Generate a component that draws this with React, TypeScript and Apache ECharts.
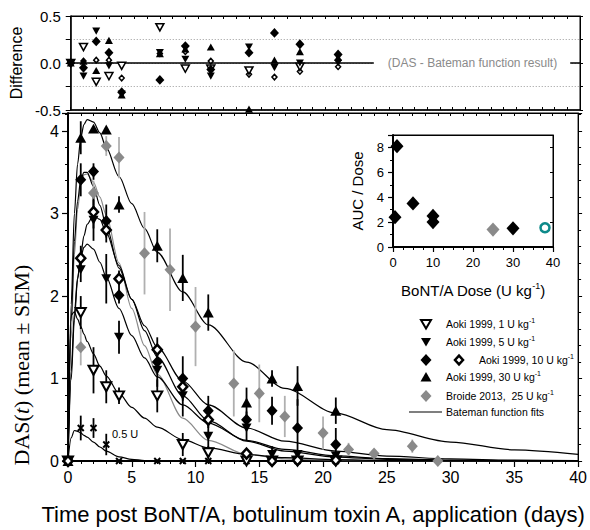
import React, { useEffect, useRef } from "react";
import * as echarts from "echarts";

// ---------------- data ----------------
const aokiDays = [0, 1, 2, 3, 4, 7, 9, 11, 14, 16, 18, 21];
const aoki1U = [0, 1.8, 1.1, 0.9, 0.79, 0.79, 0.2, 0.1, 0.0, 0.0, 0.0, 0.0];
const aoki1UErr = [0, 0.2, 0.28, 0.2, 0.1, 0.2, 0.14, 0.08, 0, 0, 0, 0];
const aoki5U = [0, 2.32, 2.92, 2.21, 1.5, 1.1, 0.79, 0.3, 0.4, 0.08, 0.08, 0.06];
const aoki5UErr = [0, 0.15, 0.25, 0.3, 0.2, 0.2, 0.25, 0.25, 0.15, 0.1, 0.05, 0.05];
const aoki10UFilled = [0, 3.41, 3.51, 2.91, 2.01, 1.2, 1.0, 0.61, 0.5, 0.61, 0.4, 0.2];
const aoki10UFilledErr = [0, 0.2, 0.1, 0.2, 0.1, 0.1, 0.27, 0.18, 0.1, 0.17, 0.35, 0.2];
const aoki10UOpen = [0, 2.46, 3.02, 2.8, 2.21, 1.35, 0.9, 0.5, 0.09, 0.0, 0.01, 0.01];
const aoki10UOpenErr = [0, 0.15, 0.2, 0.15, 0.1, 0.15, 0.1, 0.1, 0.05, 0, 0, 0];
const aoki30U = [0, 3.92, 4.03, 4.02, 3.11, 2.61, 2.22, 1.8, 0.71, 1.0, 0.91, 0.61];
const aoki30UErr = [0, 0.2, 0, 0, 0.1, 0.2, 0.28, 0.22, 0.18, 0.1, 0.24, 0.16];
const aoki05U = [0, 0.4, 0.4, 0.2, 0, 0, 0, 0, 0, 0, 0, 0];
const aoki05UErr = [0, 0.15, 0.12, 0.13, 0, 0, 0, 0, 0, 0, 0, 0];

const broideDays = [1, 2, 3, 4, 6, 8, 10, 13, 15, 17, 20, 22, 24, 27, 29];
const broide25U = [1.38, 3.25, 3.82, 3.68, 2.52, 2.32, 1.63, 0.94, 0.82, 0.54, 0.34, 0.14, 0.09, 0.18, 0.0];
const broide25UErr = [0.22, 0.15, 0.12, 0.25, 0.5, 0.5, 0.48, 0.4, 0.35, 0.25, 0.2, 0.08, 0.05, 0.08, 0.02];

// Bateman fit curves
const fitTimes = [0, 0.25, 0.5, 0.75, 1, 1.25, 1.5, 2, 2.5, 3, 4, 5, 6, 7, 9, 11, 14, 17, 21, 25, 30, 35, 40];
const fit30U = [0, 1.9, 3.0, 3.6, 3.92, 4.08, 4.14, 4.11, 3.98, 3.8, 3.45, 3.12, 2.82, 2.53, 2.05, 1.65, 1.2, 0.88, 0.58, 0.38, 0.23, 0.135, 0.08];
const fit10UFilled = [0, 1.7, 2.66, 3.15, 3.41, 3.5, 3.5, 3.33, 3.1, 2.85, 2.34, 1.96, 1.64, 1.38, 0.97, 0.68, 0.4, 0.24, 0.12, 0.06, 0.025, 0.01, 0.004];
const fit10UOpen = [0, 0.99, 1.71, 2.2, 2.5, 2.73, 2.87, 2.98, 2.93, 2.77, 2.37, 1.96, 1.58, 1.26, 0.79, 0.49, 0.24, 0.12, 0.048, 0.02, 0.006, 0.002, 0];
const fit5U = [0, 1.09, 1.79, 2.22, 2.47, 2.59, 2.63, 2.57, 2.41, 2.23, 1.85, 1.52, 1.25, 1.02, 0.68, 0.46, 0.25, 0.14, 0.062, 0.028, 0.01, 0.004, 0.001];
const fit1U = [0, 1.77, 1.81, 1.72, 1.63, 1.54, 1.45, 1.3, 1.15, 1.03, 0.82, 0.65, 0.52, 0.41, 0.26, 0.16, 0.08, 0.04, 0.016, 0.007, 0.002, 0.001, 0];
const fit05U = [0, 0.28, 0.37, 0.36, 0.34, 0.31, 0.29, 0.23, 0.17, 0.12, 0.05, 0.02, 0.006, 0.002, 0, 0, 0, 0, 0, 0, 0, 0, 0];
const fitBroide = [0, 1.5, 2.5, 3.05, 3.35, 3.47, 3.48, 3.38, 3.2, 2.98, 2.4, 1.85, 1.4, 1.05, 0.52, 0.25, 0.08, 0.025, 0.005, 0, 0, 0, 0];

// Differences (DAS - Bateman function result)
const diff1U = [0, 0.17, -0.2, -0.14, -0.03, 0.38, -0.06, -0.06, -0.08, null, -0.04, null];
const diff5U = [0, -0.14, 0.34, -0.03, -0.33, 0.11, 0.04, -0.14, 0.17, -0.05, 0.0, 0.0];
const diff10UFilled = [0, -0.05, 0.23, 0.11, -0.31, -0.18, 0.18, -0.07, 0.11, 0.32, 0.2, 0.09];
const diff10UOpen = [0, 0.02, 0.03, 0.03, -0.16, 0.1, 0.12, 0.02, -0.12, -0.15, -0.09, -0.04];
const diff30U = [0, 0.02, -0.08, 0.24, -0.34, 0.1, 0.15, 0.17, -0.49, 0.03, 0.12, 0.06];

// Inset: AUC / Dose vs dose
const insetDoseAoki = [0.5, 1, 5, 10, 10, 30];
const insetAucAoki = [2.4, 8.1, 3.5, 2.5, 2.0, 1.5];
const insetDoseBroide = [25];
const insetAucBroide = [1.4];
const insetDoseOther = [38];
const insetAucOther = [1.55];

const mainXTicks = { min: 0, max: 40, interval: 5 };
const mainYTicks = { min: 0, max: 4.22, interval: 1 };
const diffYTicks = { min: -0.5, max: 0.5, interval: 0.25 };
const insetXTicks = { min: 0, max: 40, interval: 10 };
const insetYTicks = { min: 0, max: 9, interval: 2 };

// ---------------- styling helpers ----------------
const SANS = '"Liberation Sans", Arial, Helvetica, sans-serif';
const SERIF = '"Liberation Serif", "Times New Roman", serif';
const GRAY = "#8a8a8a";
const GRAY_BAR = "#b0b0b0";
const BLACK = "#000";
const TEAL = "#0e8a8a";
const X_PATH = "path://M0 0L10 10M10 0L0 10";

const zip = (xs: number[], ys: (number | null)[]) => xs.map((x, i) => [x, ys[i]]);

function errorBars(xs: number[], ys: number[], errs: number[], color: string, xi: number, yi: number, z: number) {
  return {
    type: "custom",
    xAxisIndex: xi,
    yAxisIndex: yi,
    z,
    silent: true,
    data: xs.map((x, i) => [x, ys[i] - errs[i], ys[i] + errs[i]]).filter((d) => d[2] > d[1]),
    encode: { x: 0, y: [1, 2] },
    renderItem: (_p: any, api: any) => {
      const lo = api.coord([api.value(0), api.value(1)]);
      const hi = api.coord([api.value(0), api.value(2)]);
      return {
        type: "line",
        shape: { x1: lo[0], y1: lo[1], x2: hi[0], y2: hi[1] },
        style: { stroke: color, lineWidth: 1.8 },
      };
    },
  };
}

function scatter(xs: number[], ys: (number | null)[], xi: number, yi: number, sym: any, z: number) {
  return {
    type: "scatter",
    xAxisIndex: xi,
    yAxisIndex: yi,
    z,
    silent: true,
    data: zip(xs, ys).filter((d) => d[1] !== null),
    ...sym,
    itemStyle: { opacity: 1, ...sym.itemStyle },
  };
}

function curve(vals: number[], color: string, z: number) {
  return {
    type: "line",
    xAxisIndex: 2,
    yAxisIndex: 2,
    z,
    silent: true,
    showSymbol: false,
    smooth: 0.3,
    smoothMonotone: "x",
    data: zip(fitTimes, vals),
    lineStyle: { color, width: 1.2 },
  };
}

const symOpenDown = (s: number, bw: number) => ({ symbol: "triangle", symbolRotate: 180, symbolSize: [s, s * 0.9], itemStyle: { color: "#fff", borderColor: BLACK, borderWidth: bw } });
const symDown = (s: number) => ({ symbol: "triangle", symbolRotate: 180, symbolSize: [s, s * 0.9], itemStyle: { color: BLACK } });
const symUp = (s: number) => ({ symbol: "triangle", symbolSize: [s, s * 0.9], itemStyle: { color: BLACK } });
const symDiamond = (s: number, color = BLACK) => ({ symbol: "diamond", symbolSize: [s, s * 1.1], itemStyle: { color } });
const symOpenDiamond = (s: number, bw: number) => ({ symbol: "diamond", symbolSize: [s, s * 1.1], itemStyle: { color: "#fff", borderColor: BLACK, borderWidth: bw } });
const symCross = { symbol: X_PATH, symbolSize: 6, itemStyle: { color: "rgba(0,0,0,0)", borderColor: BLACK, borderWidth: 2 } };

const sup = { fontSize: 7, lineHeight: 8, verticalAlign: "top", fontFamily: SANS, fill: BLACK };

function legendText(y: number, x: number, label: string) {
  return {
    type: "text",
    x,
    y,
    z: 50,
    style: {
      text: `{n|${label}}{s|-1}`,
      align: "left",
      verticalAlign: "middle",
      rich: {
        n: { fontSize: 10.5, lineHeight: 14, fontFamily: SANS, fill: BLACK },
        s: sup,
      },
    },
  };
}

function poly(points: number[][], fill: string, stroke?: string, lw = 0) {
  return {
    type: "polygon",
    z: 50,
    shape: { points },
    style: { fill, stroke: stroke || "none", lineWidth: lw },
  };
}

function buildOption() {
  const lx = 426;
  const legendX = 446;
  const tri = (cx: number, cy: number, down: boolean) =>
    down ? [[cx - 5, cy - 4], [cx + 5, cy - 4], [cx, cy + 4.5]] : [[cx - 5.5, cy + 4.5], [cx + 5.5, cy + 4.5], [cx, cy - 5]];
  const dia = (cx: number, cy: number, r: number) => [[cx, cy - r * 1.1], [cx + r, cy], [cx, cy + r * 1.1], [cx - r, cy]];

  return {
    animation: false,
    backgroundColor: "#fff",
    textStyle: { fontFamily: SANS, color: BLACK },
    grid: [
      { left: 68, top: 16, width: 512, height: 94, show: true, borderColor: BLACK, borderWidth: 1, backgroundColor: "transparent" },
      { left: 68, top: 113, width: 512, height: 355, show: true, borderColor: BLACK, borderWidth: 1, backgroundColor: "transparent" },
      { left: 393, top: 135, width: 160, height: 112, show: true, borderColor: BLACK, borderWidth: 1, backgroundColor: "#fff" },
    ],
    xAxis: [
      {
        gridIndex: 0, type: "value", min: 0, max: 40, interval: 1, position: "bottom",
        axisLine: { onZero: false, lineStyle: { color: BLACK, width: 1.5 } },
        axisTick: { inside: true, length: 3, lineStyle: { color: BLACK } },
        axisLabel: { show: false }, splitLine: { show: false },
      },
      {
        gridIndex: 0, type: "value", min: 0, max: 40, interval: 1, position: "top",
        axisLine: { onZero: false, lineStyle: { color: BLACK, width: 1 } },
        axisTick: { inside: true, length: 3, lineStyle: { color: BLACK } },
        axisLabel: { show: false }, splitLine: { show: false },
      },
      {
        gridIndex: 1, type: "value", ...mainXTicks, position: "bottom",
        axisLine: { onZero: false, lineStyle: { color: BLACK, width: 2 } },
        axisTick: { length: 6, lineStyle: { color: BLACK, width: 1.2 } },
        minorTick: { show: true, splitNumber: 5, length: 3, lineStyle: { color: BLACK, width: 1 } },
        axisLabel: { fontSize: 16, color: BLACK, margin: 8, fontFamily: SANS },
        splitLine: { show: false },
        name: "Time post BoNT/A, botulinum toxin A, application (days)",
        nameLocation: "middle", nameGap: 42,
        nameTextStyle: { fontSize: 22, color: BLACK, fontFamily: SANS, padding: [0, 20, 0, 0] },
      },
      {
        gridIndex: 1, type: "value", min: 0, max: 40, interval: 1, position: "top",
        axisLine: { onZero: false, lineStyle: { color: BLACK, width: 1 } },
        axisTick: { inside: true, length: 3, lineStyle: { color: BLACK } },
        axisLabel: { show: false }, splitLine: { show: false },
      },
      {
        gridIndex: 2, type: "value", ...insetXTicks, position: "bottom",
        axisLine: { onZero: false, lineStyle: { color: BLACK, width: 2 } },
        axisTick: { length: 5, lineStyle: { color: BLACK, width: 1.2 } },
        minorTick: { show: true, splitNumber: 4, length: 3, lineStyle: { color: BLACK } },
        axisLabel: { fontSize: 13, color: BLACK, margin: 9, fontFamily: SANS },
        splitLine: { show: false },
        name: "{n|BoNT/A Dose (U kg}{s|-1}{n|)}",
        nameLocation: "middle", nameGap: 34,
        nameTextStyle: {
          rich: {
            n: { fontSize: 15, lineHeight: 18, fontFamily: SANS, color: BLACK },
            s: { fontSize: 9, lineHeight: 10, verticalAlign: "top", fontFamily: SANS, color: BLACK },
          },
        },
      },
      {
        gridIndex: 2, type: "value", ...insetXTicks, position: "top",
        axisLine: { onZero: false, lineStyle: { color: BLACK, width: 1 } },
        axisTick: { show: false }, axisLabel: { show: false }, splitLine: { show: false },
      },
    ],
    yAxis: [
      {
        gridIndex: 0, type: "value", ...diffYTicks, position: "left",
        axisLine: { onZero: false, lineStyle: { color: BLACK, width: 1.5 } },
        axisTick: { length: 5, lineStyle: { color: BLACK } },
        axisLabel: {
          fontSize: 15, color: BLACK, margin: 10, fontFamily: SANS,
          formatter: (v: number) => (Math.round(Math.abs(v) * 100) % 50 === 0 ? v.toFixed(1) : ""),
        },
        splitLine: { show: true, lineStyle: { color: "#9a9a9a", type: [1, 2], width: 1 } },
        name: "Difference", nameLocation: "middle", nameGap: 42,
        nameTextStyle: { fontSize: 16, color: BLACK, fontFamily: SANS },
      },
      {
        gridIndex: 0, type: "value", ...diffYTicks, position: "right",
        axisLine: { onZero: false, lineStyle: { color: BLACK, width: 1 } },
        axisTick: { length: 3, lineStyle: { color: BLACK } },
        axisLabel: { show: false }, splitLine: { show: false },
      },
      {
        gridIndex: 1, type: "value", ...mainYTicks, position: "left",
        axisLine: { onZero: false, lineStyle: { color: BLACK, width: 2 } },
        axisTick: { length: 6, lineStyle: { color: BLACK, width: 1.2 } },
        minorTick: { show: true, splitNumber: 5, length: 3, lineStyle: { color: BLACK } },
        axisLabel: {
          fontSize: 16, color: BLACK, margin: 9, fontFamily: SANS, showMaxLabel: false,
          formatter: (v: number) => (Number.isInteger(v) ? String(v) : ""),
        },
        splitLine: { show: false },
      },
      {
        gridIndex: 1, type: "value", ...mainYTicks, position: "right",
        axisLine: { onZero: false, lineStyle: { color: BLACK, width: 1 } },
        axisTick: { length: 4, lineStyle: { color: BLACK } },
        minorTick: { show: true, splitNumber: 5, length: 3, lineStyle: { color: BLACK } },
        axisLabel: { show: false }, splitLine: { show: false },
      },
      {
        gridIndex: 2, type: "value", ...insetYTicks, position: "left",
        axisLine: { onZero: false, lineStyle: { color: BLACK, width: 2 } },
        axisTick: { length: 5, lineStyle: { color: BLACK, width: 1.2 } },
        minorTick: { show: true, splitNumber: 2, length: 3, lineStyle: { color: BLACK } },
        axisLabel: {
          fontSize: 13, color: BLACK, margin: 9, fontFamily: SANS, showMaxLabel: false,
          formatter: (v: number) => (Number.isInteger(v) && v % 2 === 0 ? String(v) : ""),
        },
        splitLine: { show: false },
        name: "AUC / Dose", nameLocation: "middle", nameGap: 28,
        nameTextStyle: { fontSize: 15, color: BLACK, fontFamily: SANS },
      },
      {
        gridIndex: 2, type: "value", ...insetYTicks, position: "right",
        axisLine: { onZero: false, lineStyle: { color: BLACK, width: 1 } },
        axisTick: { inside: true, length: 3, lineStyle: { color: BLACK } },
        axisLabel: { show: false }, splitLine: { show: false },
      },
    ],
    series: [
      // zero reference line of the difference panel
      {
        type: "line", xAxisIndex: 0, yAxisIndex: 0, data: [], z: 1, silent: true,
        markLine: {
          silent: true, symbol: "none", label: { show: false },
          lineStyle: { color: BLACK, width: 1.5, type: "solid" },
          data: [{ yAxis: 0 }],
        },
      },
      // difference points
      scatter(aokiDays, diff10UOpen, 0, 0, symOpenDiamond(5, 1.5), 5),
      scatter(aokiDays, diff1U, 0, 0, symOpenDown(8, 1.5), 5),
      scatter(aokiDays, diff5U, 0, 0, symDown(8), 6),
      scatter(aokiDays, diff30U, 0, 0, symUp(8), 6),
      scatter(aokiDays, diff10UFilled, 0, 0, symDiamond(9), 6),

      // fitted curves
      curve(fitBroide, GRAY, 2),
      curve(fit05U, BLACK, 2),
      curve(fit1U, BLACK, 2),
      curve(fit5U, BLACK, 2),
      curve(fit10UOpen, BLACK, 2),
      curve(fit10UFilled, BLACK, 2),
      curve(fit30U, BLACK, 2),

      // error bars
      errorBars(broideDays, broide25U, broide25UErr, GRAY_BAR, 2, 2, 3),
      errorBars(aokiDays, aoki05U, aoki05UErr, BLACK, 2, 2, 4),
      errorBars(aokiDays, aoki1U, aoki1UErr, BLACK, 2, 2, 4),
      errorBars(aokiDays, aoki5U, aoki5UErr, BLACK, 2, 2, 4),
      errorBars(aokiDays, aoki10UOpen, aoki10UOpenErr, BLACK, 2, 2, 4),
      errorBars(aokiDays, aoki10UFilled, aoki10UFilledErr, BLACK, 2, 2, 4),
      errorBars(aokiDays, aoki30U, aoki30UErr, BLACK, 2, 2, 4),

      // data points
      scatter(broideDays, broide25U, 2, 2, symDiamond(11, GRAY), 5),
      scatter(aokiDays, aoki05U, 2, 2, symCross, 6),
      scatter(aokiDays, aoki1U, 2, 2, symOpenDown(10, 2), 6),
      scatter(aokiDays, aoki5U, 2, 2, symDown(10), 6),
      scatter(aokiDays, aoki30U, 2, 2, symUp(11), 6),
      scatter(aokiDays, aoki10UFilled, 2, 2, symDiamond(11), 7),
      scatter(aokiDays, aoki10UOpen, 2, 2, symOpenDiamond(9, 2.5), 8),

      // inset
      scatter(insetDoseAoki, insetAucAoki, 4, 4, symDiamond(13), 10),
      scatter(insetDoseBroide, insetAucBroide, 4, 4, symDiamond(13, GRAY), 10),
      scatter(insetDoseOther, insetAucOther, 4, 4, {
        symbol: "circle", symbolSize: 9,
        itemStyle: { color: "#fff", borderColor: TEAL, borderWidth: 2.5 },
      }, 10),
    ],
    graphic: [
      // label on the zero line of the difference panel
      {
        type: "text", x: 472, y: 63, z: 60,
        style: {
          text: "(DAS - Bateman function result)",
          fontSize: 12, fontFamily: SANS, fill: "#8a8a8a",
          align: "center", verticalAlign: "middle",
          backgroundColor: "#fff", padding: [2, 13, 2, 14],
        },
      },
      // y axis name of main panel
      {
        type: "text", x: 21, y: 365, rotation: Math.PI / 2, z: 60,
        style: {
          text: "{a|DAS(}{i|t}{a|) (mean ± SEM)}",
          align: "center", verticalAlign: "middle",
          rich: {
            a: { fontSize: 22, fontFamily: SERIF, fill: BLACK },
            i: { fontSize: 22, fontFamily: SERIF, fontStyle: "italic", fill: BLACK },
          },
        },
      },
      // 0.5 U annotation
      {
        type: "text", x: 112, y: 434, z: 60,
        style: { text: "0.5 U", fontSize: 11, fontFamily: SANS, fill: BLACK, align: "left", verticalAlign: "middle" },
      },
      // legend
      poly(tri(lx, 324, true), "#fff", BLACK, 2),
      legendText(324, legendX, "Aoki 1999, 1 U kg"),
      poly(tri(lx, 342, true), BLACK),
      legendText(342, legendX, "Aoki 1999, 5 U kg"),
      poly(dia(lx, 360, 5.5), BLACK),
      poly(dia(459, 360, 4), "#fff", BLACK, 2.5),
      legendText(360, 479, "Aoki 1999, 10 U kg"),
      poly(tri(lx, 377, false), BLACK),
      legendText(377, legendX, "Aoki 1999, 30 U kg"),
      poly(dia(lx, 396, 5.5), GRAY),
      legendText(396, legendX, "Broide 2013,  25 U kg"),
      {
        type: "line", z: 50,
        shape: { x1: 409, y1: 412, x2: 442, y2: 412 },
        style: { stroke: BLACK, lineWidth: 1.2 },
      },
      {
        type: "text", x: legendX, y: 412, z: 50,
        style: { text: "Bateman function fits", fontSize: 10.5, fontFamily: SANS, fill: BLACK, align: "left", verticalAlign: "middle" },
      },
    ],
  };
}

export default function App() {
  const ref = useRef<HTMLDivElement>(null);
  useEffect(() => {
    if (!ref.current) return;
    const chart = echarts.init(ref.current, null, { renderer: "svg" });
    chart.setOption(buildOption() as any);
    return () => chart.dispose();
  }, []);
  return <div ref={ref} style={{ position: "fixed", left: 0, top: 0, width: 590, height: 530 }} />;
}
